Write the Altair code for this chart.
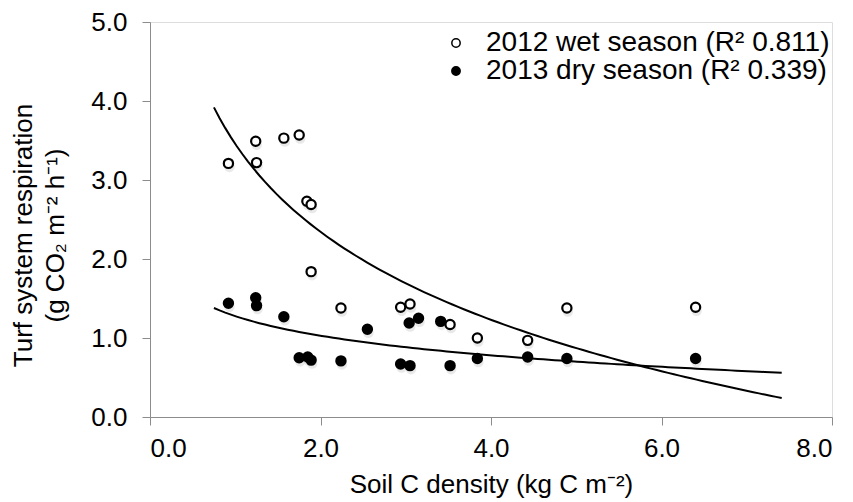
import altair as alt
import pandas as pd

wet_x = [0.92, 1.24, 1.25, 1.57, 1.75, 1.84, 1.89, 1.89, 2.24, 2.94, 3.05, 3.52, 3.84, 4.43, 4.89, 6.40]
wet_y = [3.21, 3.49, 3.22, 3.53, 3.57, 2.73, 2.69, 1.84, 1.38, 1.39, 1.43, 1.17, 1.00, 0.97, 1.38, 1.39]
dry_x = [0.92, 1.24, 1.25, 1.57, 1.75, 1.85, 1.89, 2.24, 2.55, 2.94, 3.05, 3.04, 3.15, 3.41, 3.52, 3.84, 4.43, 4.89, 6.40]
dry_y = [1.44, 1.51, 1.41, 1.27, 0.75, 0.76, 0.72, 0.71, 1.11, 0.67, 0.65, 1.19, 1.25, 1.21, 0.65, 0.74, 0.76, 0.74, 0.74]
seasons = ["2012 wet season (R² 0.811)", "2013 dry season (R² 0.339)"]
fill_colors = ["white", "black"]
x_ticks = [0, 2, 4, 6, 8]
y_ticks = [0, 1, 2, 3, 4, 5]
# logarithmic trendlines y = a + b*ln(x)
fit_a = [3.457, 1.277]
fit_b = [-1.606, -0.358]
fit_x0 = [0.75, 0.75]
fit_x1 = [7.41, 7.41]

df = pd.concat([
    pd.DataFrame({"x": wet_x, "y": wet_y, "season": seasons[0]}),
    pd.DataFrame({"x": dry_x, "y": dry_y, "season": seasons[1]}),
])
df_fit = pd.DataFrame({"season": seasons, "a": fit_a, "b": fit_b,
                       "x0": fit_x0, "x1": fit_x1})

FONT = "Liberation Sans"
FS = 26

xs = alt.Scale(domain=[0, 8], nice=False, zero=False)
ys = alt.Scale(domain=[0, 5], nice=False)

x_enc = alt.X("x:Q", scale=xs, axis=alt.Axis(
    values=x_ticks, format=".1f", title="Soil C density (kg C m⁻²)",
    grid=False, domainColor="#8c8c8c", tickColor="#8c8c8c", tickSize=8,
    labelFont=FONT, labelFontSize=FS, labelColor="black",
    labelBaseline="alphabetic", labelPadding=31,
    titleFont=FONT, titleFontSize=FS, titleFontWeight="normal", titleColor="black",
    titleBaseline="alphabetic", titleY=75))
y_enc = alt.Y("y:Q", scale=ys, axis=alt.Axis(
    values=y_ticks, format=".1f",
    title=["Turf system respiration", "(g CO₂ m⁻² h⁻¹)"],
    grid=False, domainColor="#8c8c8c", tickColor="#8c8c8c", tickSize=8,
    labelFont=FONT, labelFontSize=FS, labelColor="black", labelPadding=15,
    titleFont=FONT, titleFontSize=FS, titleFontWeight="normal", titleColor="black",
    titleLineHeight=32, titleAngle=-90, titleAlign="center", titleBaseline="top",
    titleX=-140, titleY=213))

base = alt.Chart(df)

shadow = base.mark_circle(size=110, color="#9a9a9a", opacity=0.22).encode(
    x=x_enc, y=y_enc, yOffset=alt.value(3.5), xOffset=alt.value(1))

lines = alt.Chart(df_fit).transform_calculate(
    t="sequence(0, 101)"
).transform_flatten(["t"]).transform_calculate(
    x="datum.x0 + (datum.x1 - datum.x0) * datum.t / 100"
).transform_calculate(
    y="datum.a + datum.b * log(datum.x)"
).mark_line(color="black", strokeWidth=2).encode(
    x=alt.X("x:Q", scale=xs), y=alt.Y("y:Q", scale=ys),
    detail="season:N", order="t:Q")

points = base.mark_point(shape="circle", size=85, strokeWidth=2.2, stroke="black",
                         opacity=1, fillOpacity=1).encode(
    x=x_enc, y=y_enc,
    fill=alt.Fill("season:N", scale=alt.Scale(domain=seasons, range=fill_colors),
                  legend=alt.Legend(
                      title=None, orient="none", legendX=292, legendY=7, padding=0,
                      symbolType="circle", symbolSize=70, symbolStrokeColor="black",
                      symbolStrokeWidth=1.5, labelFont=FONT, labelFontSize=28,
                      labelColor="black", labelLimit=500, rowPadding=0,
                      labelOffset=16)))

chart = alt.layer(shadow, lines, points).properties(
    width=682, height=395,
    autosize=alt.AutoSizeParams(type="none"),
    padding={"left": 150, "top": 22, "right": 21, "bottom": 85},
).configure_view(stroke=None).configure(background="white")

chart.save("out.html", embed_options={"renderer": "svg", "actions": False})
